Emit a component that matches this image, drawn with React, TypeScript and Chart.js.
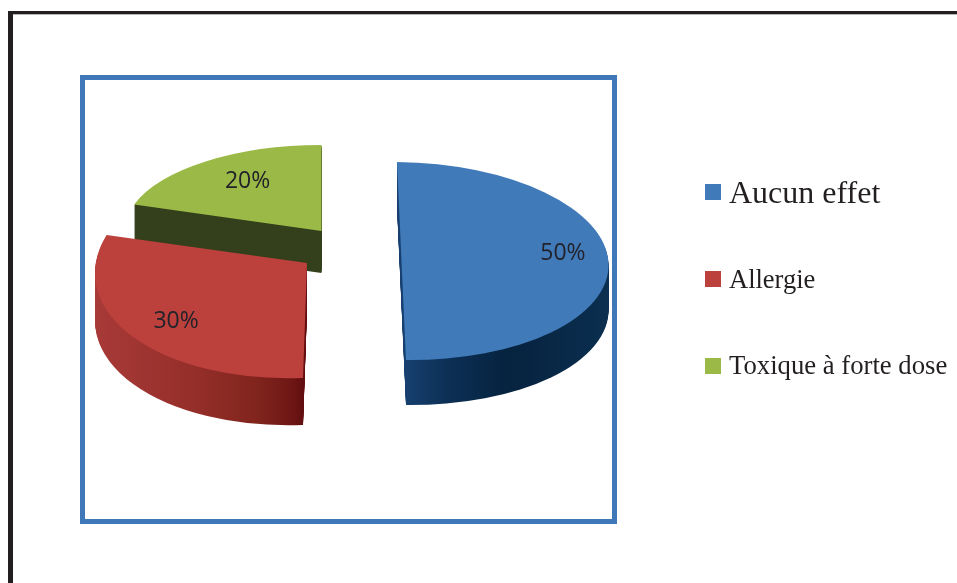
import React, { useEffect, useRef } from "react";
import { Chart, registerables } from "chart.js";

Chart.register(...registerables);

const categories = ["Aucun effet", "Allergie", "Toxique à forte dose"];
const shares = [50, 30, 20];
const colors = ["#417ab9", "#bc403c", "#9bb947"];

// Oblique projection of each exploded slice: [a, b, c, d] matrix in px per pie radius, apex, wall depth
const projection = [
  { a: 207, b: 2, c: 4.5, d: 99, vx: 401.5, vy: 261, depth: 45 },
  { a: 212, b: -8, c: -4, d: 115, vx: 307, vy: 263, depth: 47 },
  { a: 197, b: 0, c: 0, d: 86, vx: 321.5, vy: 231, depth: 42 },
];
const wallStops: [number, string][][] = [
  [[0, "#174070"], [0.2, "#0c2f54"], [0.5, "#06233f"], [0.9, "#0a2c4c"], [1, "#0d3050"]],
  [[-1, "#a83a38"], [-0.5, "#942e29"], [-0.2, "#7f241c"], [-0.05, "#6e1615"], [0, "#620e10"]],
  [[-1, "#343f1c"], [0, "#343f1c"]],
];
const drawOrder = [2, 0, 1];
const labelRadius = [0.78, 0.77, 0.69];
const labelNudge = [[0, -9], [3, 1], [6, -2]];
const legendFont = [32, 26.5, 26.7];
const legendBaseline = [203, 288, 374];
const legendBoxTop = [184, 271, 358];

const project = (ctx: CanvasRenderingContext2D, el: any, p: any, shift = 0) => {
  const R = el.outerRadius;
  ctx.transform(p.a / R, p.b / R, p.c / R, p.d / R, p.vx, p.vy + shift);
  ctx.translate(-el.x, -el.y);
};

const pie3d = {
  id: "pie3d",
  beforeDatasetsDraw(chart: any) {
    const { ctx } = chart;
    const arcs = chart.getDatasetMeta(0).data;
    drawOrder.forEach((i) => {
      const el = arcs[i];
      const p = projection[i];
      const R = el.outerRadius;
      const base = el.options;
      const grad = ctx.createLinearGradient(el.x - R, 0, el.x + R, 0);
      wallStops[i].forEach(([u, c]) => grad.addColorStop((u + 1) / 2, c));
      el.options = { ...base, backgroundColor: grad, borderWidth: 0 };
      for (let s = p.depth; s >= 1; s--) {
        ctx.save();
        project(ctx, el, p, s);
        el.draw(ctx);
        ctx.restore();
      }
      el.options = base;
      ctx.save();
      project(ctx, el, p);
      el.draw(ctx);
      ctx.restore();
    });
    return false;
  },
  afterDraw(chart: any) {
    const { ctx } = chart;
    const arcs = chart.getDatasetMeta(0).data;
    ctx.save();
    ctx.textAlign = "center";
    ctx.textBaseline = "middle";
    ctx.fillStyle = "#22222a";
    ctx.font = '23px "Open Sans"';
    arcs.forEach((el: any, i: number) => {
      const p = projection[i];
      const mid = (el.startAngle + el.endAngle) / 2;
      const ux = Math.cos(mid) * labelRadius[i];
      const uy = Math.sin(mid) * labelRadius[i];
      ctx.fillText(
        `${shares[i]}%`,
        p.vx + p.a * ux + p.c * uy + labelNudge[i][0],
        p.vy + p.b * ux + p.d * uy + labelNudge[i][1]
      );
    });
    ctx.textAlign = "left";
    ctx.textBaseline = "alphabetic";
    categories.forEach((name, i) => {
      ctx.fillStyle = colors[i];
      ctx.fillRect(705, legendBoxTop[i], 16, 16);
      ctx.fillStyle = "#231f20";
      ctx.font = `${legendFont[i]}px "Liberation Serif"`;
      ctx.fillText(name, 729, legendBaseline[i]);
    });
    ctx.restore();
  },
};

export default function App() {
  const ref = useRef<HTMLCanvasElement>(null);
  useEffect(() => {
    const chart = new Chart(ref.current as HTMLCanvasElement, {
      type: "pie",
      data: {
        labels: categories,
        datasets: [{ data: shares, backgroundColor: colors, borderWidth: 0 }],
      },
      options: {
        responsive: false,
        animation: false,
        rotation: 0,
        plugins: { legend: { display: false }, tooltip: { enabled: false } },
      },
      plugins: [pie3d],
    } as any);
    return () => chart.destroy();
  }, []);
  return (
    <div style={{ position: "fixed", left: 0, top: 0, width: 957, height: 583, overflow: "hidden", background: "#fff" }}>
      <div style={{ position: "absolute", left: 8, top: 11, width: 1000, height: 700, borderLeft: "5px solid #231f20", borderTop: "3px solid #231f20", boxShadow: "0 1px 0 #b5b5b5 inset" }} />
      <div style={{ position: "absolute", left: 80, top: 75, width: 527, height: 439, border: "5px solid #3f78b9" }} />
      <canvas ref={ref} width={957} height={583} style={{ position: "absolute", left: 0, top: 0, display: "block" }} />
    </div>
  );
}
